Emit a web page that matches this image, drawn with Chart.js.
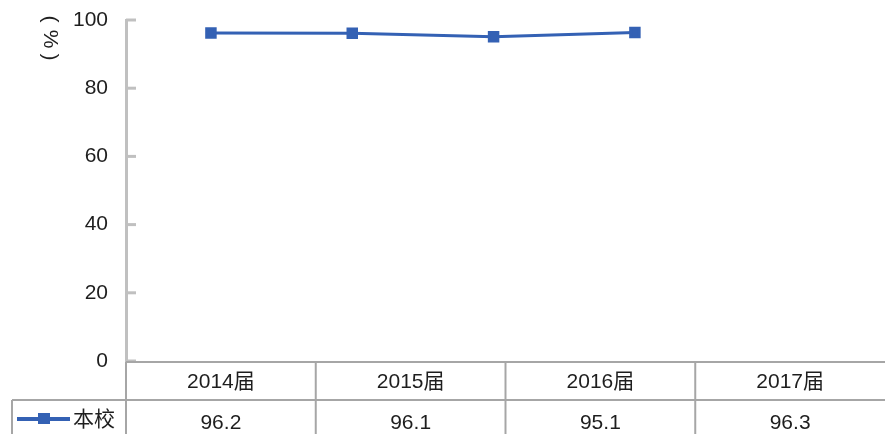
<!DOCTYPE html>
<html><head><meta charset="utf-8">
<script src="https://cdn.jsdelivr.net/npm/chart.js@4/dist/chart.umd.min.js"></script>
<style>html,body{margin:0;padding:0;background:#fff}#wrap{width:885px;height:434px;position:relative}</style>
</head><body><div id="wrap"><canvas id="c" width="885" height="434"></canvas></div>
<script>
const categories = ["2014届", "2015届", "2016届", "2017届"];
const seriesName = "本校";
const values = [96.2, 96.1, 95.1, 96.3];
const yTicks = [0, 20, 40, 60, 80, 100];
const yTitle = ["(", "%", ")"];

const FONT = '"Liberation Sans", "Noto Sans CJK SC", sans-serif';
const BLUE = '#3461B4';
const GRID = '#a6a6a6';
const TXT = '#1e1e1e';

const tablePlugin = {
  id: 'dataTable',
  afterDraw(chart) {
    const ctx = chart.ctx;
    const y = chart.scales.y;
    const left = y.right, right = chart.width;
    const top = y.bottom + 1;
    const rowH = 38;
    const colW = (right - left) / categories.length;
    ctx.save();
    ctx.strokeStyle = '#c0c0c0';
    ctx.lineWidth = 3;
    yTicks.forEach(t => {
      const py = y.getPixelForValue(t);
      ctx.beginPath(); ctx.moveTo(left, py); ctx.lineTo(left + 10, py); ctx.stroke();
    });
    ctx.strokeStyle = GRID;
    ctx.lineWidth = 2;
    ctx.beginPath(); ctx.moveTo(left, top); ctx.lineTo(right, top); ctx.stroke();
    ctx.beginPath(); ctx.moveTo(12, top + rowH); ctx.lineTo(right, top + rowH); ctx.stroke();
    for (let i = 0; i < categories.length; i++) {
      const x = left + i * colW;
      ctx.beginPath(); ctx.moveTo(x, top); ctx.lineTo(x, chart.height); ctx.stroke();
    }
    ctx.beginPath(); ctx.moveTo(12, top + rowH); ctx.lineTo(12, chart.height); ctx.stroke();
    ctx.fillStyle = TXT;
    ctx.font = '21px ' + FONT;
    ctx.textAlign = 'center';
    ctx.textBaseline = 'middle';
    categories.forEach((c, i) => {
      const cx = left + (i + 0.5) * colW;
      ctx.fillText(c, cx, top + 20);
      ctx.fillText(values[i].toFixed(1), cx, top + 61);
    });
    const ly = top + rowH + 19;
    ctx.strokeStyle = BLUE; ctx.lineWidth = 4;
    ctx.beginPath(); ctx.moveTo(17, ly); ctx.lineTo(70, ly); ctx.stroke();
    ctx.fillStyle = BLUE; ctx.fillRect(38, ly - 6, 12, 11);
    ctx.fillStyle = TXT;
    ctx.textAlign = 'left';
    ctx.fillText(seriesName, 73, ly + 1);
    const pos = [19, 39, 57];
    yTitle.forEach((ch, i) => {
      ctx.save();
      ctx.translate(50, pos[i]);
      ctx.rotate(Math.PI / 2);
      ctx.textAlign = 'center';
      ctx.fillText(ch, 0, 0);
      ctx.restore();
    });
    ctx.restore();
  }
};

new Chart(document.getElementById('c'), {
  type: 'line',
  data: {
    datasets: [{
      label: seriesName,
      data: values.map((v, i) => ({x: i, y: v})),
      borderColor: BLUE,
      backgroundColor: BLUE,
      borderWidth: 3,
      pointStyle: 'rect',
      pointRadius: 6,
      pointHoverRadius: 6,
      tension: 0
    }]
  },
  options: {
    responsive: false,
    animation: false,
    layout: { padding: { top: 0, bottom: 73, left: 0, right: 0 } },
    plugins: { legend: { display: false }, tooltip: { enabled: false } },
    scales: {
      x: { type: 'linear', display: false, min: -0.601, max: 4.706 },
      y: {
        min: 0, max: 100,
        afterFit(s) { s.width = 126; s.paddingTop = 20; s.paddingBottom = 0; },
        afterBuildTicks(s) { s.ticks = yTicks.map(v => ({value: v})); },
        grid: { display: false, drawTicks: false },
        border: { display: true, color: '#c0c0c0', width: 3 },
        ticks: { padding: 18, color: TXT, font: { size: 21, family: FONT, lineHeight: 1 } }
      }
    }
  },
  plugins: [tablePlugin]
});
</script></body></html>
